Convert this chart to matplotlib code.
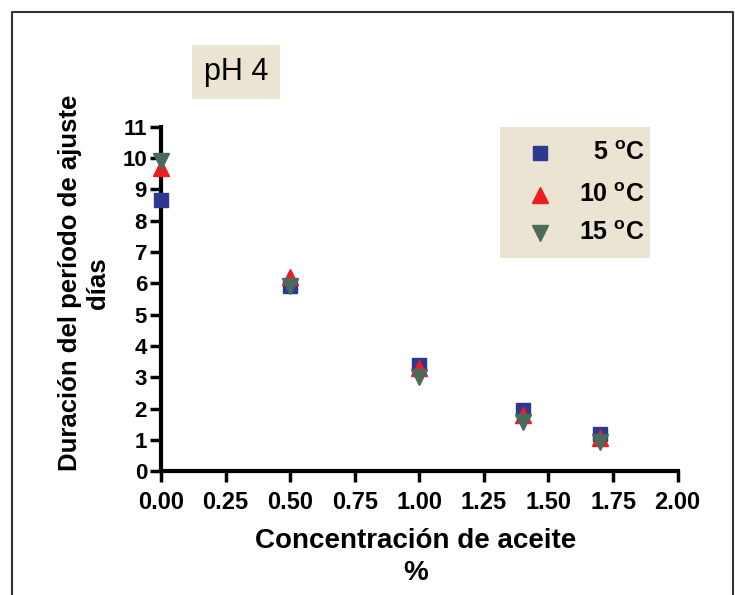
import matplotlib.pyplot as plt
from matplotlib.patches import Rectangle
from matplotlib.lines import Line2D

plt.rcParams['font.family'] = ['Liberation Sans', 'DejaVu Sans']

conc = [0.0, 0.5, 1.0, 1.4, 1.7]
t5 = [8.65, 5.9, 3.38, 1.95, 1.18]
t10 = [9.68, 6.2, 3.3, 1.8, 1.05]
t15 = [9.92, 5.92, 3.0, 1.58, 0.92]

x_ticks = [0.0, 0.25, 0.5, 0.75, 1.0, 1.25, 1.5, 1.75, 2.0]
y_ticks = list(range(0, 12))

fig = plt.figure(figsize=(7.35, 5.95), dpi=100)
ax = fig.add_axes([0.219, 0.208, 0.703, 0.579])

ax.plot(conc, t5, 's', color='#2b3990', ms=10, clip_on=False, zorder=3)
ax.plot(conc, t10, '^', color='#ed1c24', ms=12, clip_on=False, zorder=4)
ax.plot(conc, t15, 'v', color='#4a6a5a', ms=11, clip_on=False, zorder=5)

ax.set_xlim(0, 2.0)
ax.set_ylim(0, 11)
ax.set_xticks(x_ticks)
ax.set_xticklabels(['%.2f' % v for v in x_ticks])
ax.set_yticks(y_ticks)
for s in ['top', 'right']:
    ax.spines[s].set_visible(False)
for s in ['left', 'bottom']:
    ax.spines[s].set_linewidth(3)
ax.tick_params(width=2.5, length=8)
ax.tick_params(axis='x', labelsize=17, pad=6)
ax.tick_params(axis='y', labelsize=16, pad=2)
for lab in ax.get_xticklabels() + ax.get_yticklabels():
    lab.set_fontweight('bold')

ax.set_xlabel('Concentración de aceite\n%', fontsize=20, fontweight='bold',
              linespacing=1.3)
ax.xaxis.set_label_coords(0.493, -0.165)
ax.set_ylabel('Duración del período de ajuste\ndías', fontsize=18.5, fontweight='bold')
ax.yaxis.set_label_coords(-0.099, 0.547)

# legend box
fig.patches.append(Rectangle((500 / 735, 1 - 258 / 595), 150 / 735, 131 / 595,
                             transform=fig.transFigure, facecolor='#ece4d2',
                             edgecolor='none', zorder=0))
labels = ['5 $^{\\mathregular{o}}$C', '10 $^{\\mathregular{o}}$C', '15 $^{\\mathregular{o}}$C']
styles = [('s', '#2b3990', 10), ('^', '#ed1c24', 12), ('v', '#4a6a5a', 11)]
ys = [153, 195, 233]
for lab, (m, c, ms), yp in zip(labels, styles, ys):
    fy = 1 - yp / 595
    fig.add_artist(Line2D([540 / 735], [fy], marker=m, color=c, ms=ms, ls='none',
                          transform=fig.transFigure))
    fig.text(645 / 735, fy, lab, ha='right', va='center', fontsize=18,
             fontweight='bold')

# pH box
fig.text(236 / 735, 1 - 72 / 595, 'pH 4', ha='center', va='center', fontsize=22,
         bbox=dict(boxstyle='square,pad=0.4', facecolor='#ece4d2', edgecolor='none'))

# outer frame (open at bottom)
fig.add_artist(Line2D([12 / 735, 12 / 735, 733 / 735, 733 / 735],
                      [0, 1 - 12 / 595, 1 - 12 / 595, 0],
                      transform=fig.transFigure, color='#333333', lw=1.5))

fig.savefig('out.png', dpi=100)
